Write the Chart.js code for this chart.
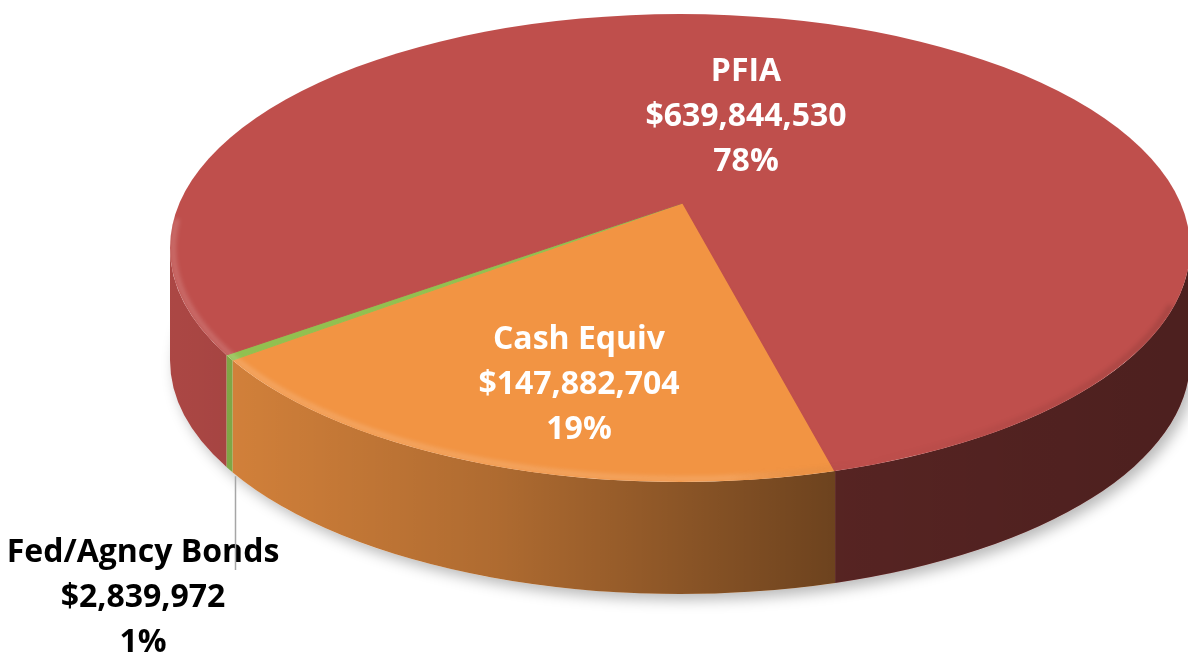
<!DOCTYPE html>
<html>
<head>
<meta charset="utf-8">
<script src="https://cdn.jsdelivr.net/npm/chart.js@4.4.1/dist/chart.umd.min.js"></script>
<style>
  html, body { margin: 0; padding: 0; background: #fff; }
  #wrap { position: relative; width: 1188px; height: 660px; }
</style>
</head>
<body>
<div id="wrap"><canvas id="pie"></canvas></div>
<script>
const categories = ["Cash Equiv", "Fed/Agncy Bonds", "PFIA"];
const amounts = [147882704, 2839972, 639844530];
const percentLabels = ["19%", "1%", "78%"];
const sliceColors = ["#F29443", "#92C050", "#BF4F4C"];

// top face of the pie is an ellipse on the page, the wall hangs below it.
// the slices fan out from APEX, a bit behind the ellipse centre (perspective)
const PIE = { cx: 680, cy: 248, rx: 510, ry: 234, depth: 112 };
const APEX = { x: 683, y: 203 };
const LABEL_POS = [
  { x: 579, y: 340, color: "#ffffff" },
  { x: 143, y: 553, color: "#000000" },
  { x: 746, y: 72, color: "#ffffff" }
];
const LINE_GAP = 45;
const LABEL_FONT = "bold 32px 'Open Sans'";

function money(v) {
  return "$" + v.toLocaleString("en-US");
}

// where a slice edge (library angle) meets the rim, as an ellipse angle
function rimAngle(theta) {
  const px = (APEX.x - PIE.cx) / PIE.rx, py = (APEX.y - PIE.cy) / PIE.ry;
  const qx = Math.cos(theta) / PIE.rx, qy = (PIE.ry / PIE.rx) * Math.sin(theta) / PIE.ry;
  const A = qx * qx + qy * qy, B = 2 * (px * qx + py * qy), C = px * px + py * py - 1;
  const t = (-B + Math.sqrt(B * B - 4 * A * C)) / (2 * A);
  return Math.atan2(py + t * qy, px + t * qx);
}

function rimSpan(arc) {
  let s = rimAngle(arc.startAngle);
  let e = rimAngle(arc.endAngle);
  while (e <= s) e += 2 * Math.PI;
  return [s, e];
}

// pieces of [s, e] that face the viewer (angles 0..PI)
function frontSpans(s, e) {
  const out = [];
  for (let k = -1; k <= 2; k++) {
    const lo = Math.max(s, k * 2 * Math.PI);
    const hi = Math.min(e, k * 2 * Math.PI + Math.PI);
    if (hi > lo) out.push([lo, hi]);
  }
  return out;
}

function wallPath(ctx, p, q) {
  ctx.beginPath();
  ctx.ellipse(PIE.cx, PIE.cy, PIE.rx, PIE.ry, 0, p, q, false);
  ctx.ellipse(PIE.cx, PIE.cy + PIE.depth, PIE.rx, PIE.ry, 0, q, p, true);
  ctx.closePath();
}

function drawWalls(ctx, arcs) {
  // soft drop shadow under the whole disc
  ctx.save();
  ctx.shadowColor = "rgba(0,0,0,0.28)";
  ctx.shadowBlur = 14;
  ctx.shadowOffsetX = 5;
  ctx.shadowOffsetY = 6;
  ctx.fillStyle = "#fff";
  ctx.beginPath();
  ctx.ellipse(PIE.cx, PIE.cy + PIE.depth, PIE.rx, PIE.ry, 0, 0, 2 * Math.PI);
  ctx.fill();
  ctx.restore();

  const dark = ctx.createLinearGradient(PIE.cx - PIE.rx, 0, PIE.cx + PIE.rx, 0);
  dark.addColorStop(0, "rgba(0,0,0,0.10)");
  dark.addColorStop(0.32, "rgba(0,0,0,0.28)");
  dark.addColorStop(0.65, "rgba(0,0,0,0.55)");
  dark.addColorStop(1, "rgba(0,0,0,0.60)");

  arcs.forEach((arc, i) => {
    const [s, e] = rimSpan(arc);
    frontSpans(s, e).forEach(([p, q]) => {
      wallPath(ctx, p, q);
      ctx.fillStyle = sliceColors[i];
      ctx.fill();
      ctx.fillStyle = dark;
      ctx.fill();
    });
  });
}

function drawRim(ctx) {
  ctx.save();
  ctx.beginPath();
  ctx.ellipse(PIE.cx, PIE.cy, PIE.rx, PIE.ry, 0, 0, 2 * Math.PI);
  ctx.clip();
  const g = ctx.createLinearGradient(PIE.cx - PIE.rx, 0, PIE.cx + PIE.rx, 0);
  g.addColorStop(0, "rgba(255,255,255,0.16)");
  g.addColorStop(0.55, "rgba(255,255,255,0.14)");
  g.addColorStop(0.68, "rgba(0,0,0,0.0)");
  g.addColorStop(1, "rgba(0,0,0,0.12)");
  ctx.filter = "blur(2px)";
  ctx.strokeStyle = g;
  ctx.lineWidth = 6;
  ctx.beginPath();
  ctx.ellipse(PIE.cx, PIE.cy, PIE.rx - 3, PIE.ry - 3, 0, Math.PI * 0.08, Math.PI * 1.04);
  ctx.stroke();
  ctx.restore();
}

function drawLabels(ctx, arcs) {
  ctx.save();
  ctx.font = LABEL_FONT;
  ctx.textAlign = "center";
  ctx.textBaseline = "middle";
  arcs.forEach((arc, i) => {
    const pos = LABEL_POS[i];
    const lines = [categories[i], money(amounts[i]), percentLabels[i]];
    ctx.fillStyle = pos.color;
    lines.forEach((t, j) => ctx.fillText(t, pos.x, pos.y + j * LINE_GAP));
  });

  // leader line for the thin slice, hanging from its wall
  const [s] = rimSpan(arcs[1]);
  const lx = Math.round(PIE.cx + PIE.rx * Math.cos(s)) + 3.5;
  const ly = PIE.cy + PIE.ry * Math.sin(s) + PIE.depth + 4;
  ctx.strokeStyle = "#a6a6a6";
  ctx.lineWidth = 1.5;
  ctx.beginPath();
  ctx.moveTo(lx, ly);
  ctx.lineTo(lx, LABEL_POS[1].y + 17);
  ctx.stroke();
  ctx.restore();
}

const pie3d = {
  id: "pie3d",
  beforeDatasetsDraw(chart) {
    const ctx = chart.ctx;
    const arcs = chart.getDatasetMeta(0).data;
    const a = arcs[0];
    drawWalls(ctx, arcs);
    // top face: library circle, squashed and fanned from the apex, cut by the rim
    const k = 650 / a.outerRadius;
    ctx.save();
    ctx.beginPath();
    ctx.ellipse(PIE.cx, PIE.cy, PIE.rx, PIE.ry, 0, 0, 2 * Math.PI);
    ctx.clip();
    ctx.translate(APEX.x, APEX.y);
    ctx.scale(k, k * PIE.ry / PIE.rx);
    ctx.translate(-a.x, -a.y);
  },
  afterDatasetsDraw(chart) {
    const ctx = chart.ctx;
    ctx.restore();
    const arcs = chart.getDatasetMeta(0).data;
    drawRim(ctx);
    drawLabels(ctx, arcs);
  }
};

new Chart(document.getElementById("pie"), {
  type: "pie",
  data: {
    labels: categories,
    datasets: [{
      data: amounts,
      backgroundColor: sliceColors,
      borderColor: sliceColors,
      borderWidth: 1
    }]
  },
  options: {
    responsive: true,
    maintainAspectRatio: false,
    animation: false,
    rotation: 165.4,
    layout: { padding: 0 },
    plugins: {
      legend: { display: false },
      tooltip: { enabled: false }
    }
  },
  plugins: [pie3d]
});
</script>
</body>
</html>
